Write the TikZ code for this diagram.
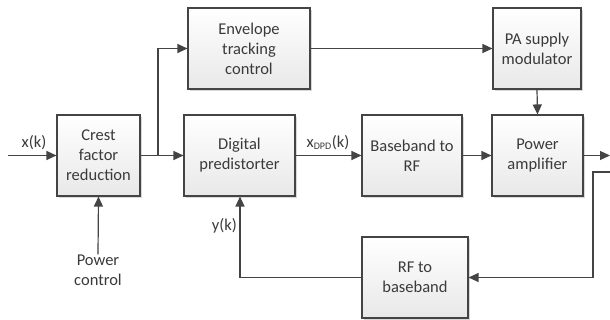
\documentclass[tikz,border=0pt]{standalone}
\usepackage{fontspec}
\setmainfont{Carlito}
\usetikzlibrary{arrows.meta,shadows,calc}
\definecolor{ink}{HTML}{444444}
\definecolor{txt}{HTML}{3A3A3A}
\begin{document}
\begin{tikzpicture}[x=1pt,y=-1pt,
  blk/.style={draw=ink, line width=1.1pt, top color=white, bottom color=black!9,
    minimum height=81pt, align=center, text=txt, font=\fontsize{16.5}{20}\selectfont,
    inner sep=0pt, drop shadow={shadow xshift=2pt, shadow yshift=-2pt, opacity=0.25, fill=black!60}},
  wire/.style={draw=ink, line width=1.2pt},
  arr/.style={wire, -{Triangle[length=10pt,width=9pt]}},
  lbl/.style={text=txt, font=\fontsize{16.5}{20}\selectfont, inner sep=0pt, align=center}]
\useasboundingbox (0,0) rectangle (610,320);
\fill[white] (0,0) rectangle (610,320);

\node[blk, minimum width=83pt] (cfr) at (98.5,155.5) {Crest\\factor\\reduction};
\node[blk, minimum width=122pt] (etc) at (249,48.5) {Envelope\\tracking\\control};
\node[blk, minimum width=111pt] (dp) at (239.5,155.5) {Digital\\predistorter};
\node[blk, minimum width=100pt] (bb) at (412,155.5) {Baseband to\\RF};
\node[blk, minimum width=91pt] (pa) at (537.5,155.5) {Power\\amplifier};
\node[blk, minimum width=88pt] (psm) at (537,48.5) {PA supply\\modulator};
\node[blk, minimum width=106pt] (rfb) at (415,277.5) {RF to\\baseband};

\coordinate (in) at (8,155.5);
\coordinate (jn) at (158,155.5);
\coordinate (out) at (610,155.5);
\coordinate (fbin) at (610,172);
\coordinate (fbc) at (593,172);
\coordinate (fbl) at (240,277.5);

\node[lbl] (pc) at (98,270) {Power\\control};
\node[lbl, anchor=south] (xk) at (34,150) {x(k)};
\node[lbl, anchor=south] (xd) at (328,150) {x\textsubscript{\fontsize{10}{10}\selectfont DPD}(k)};
\node[lbl, anchor=east] (yk) at (237,226) {y(k)};

\draw[arr] (in) -- (cfr.west);
\draw[wire] (cfr.east) -- (jn);
\draw[arr] (jn) -- (dp.west);
\draw[arr] (jn) |- (etc.west);
\draw[arr] (etc.east) -- (psm.west);
\draw[arr] (psm.south) -- (pa.north);
\draw[arr] (dp.east) -- (bb.west);
\draw[arr] (bb.east) -- (pa.west);
\draw[arr] (pa.east) -- (out);
\draw[arr] (fbin) -- (fbc) |- (rfb.east);
\draw[arr] (rfb.west) -- (fbl) -- (dp.south -| fbl);
\draw[arr] (pc.north) -- (cfr.south);
\end{tikzpicture}
\end{document}
